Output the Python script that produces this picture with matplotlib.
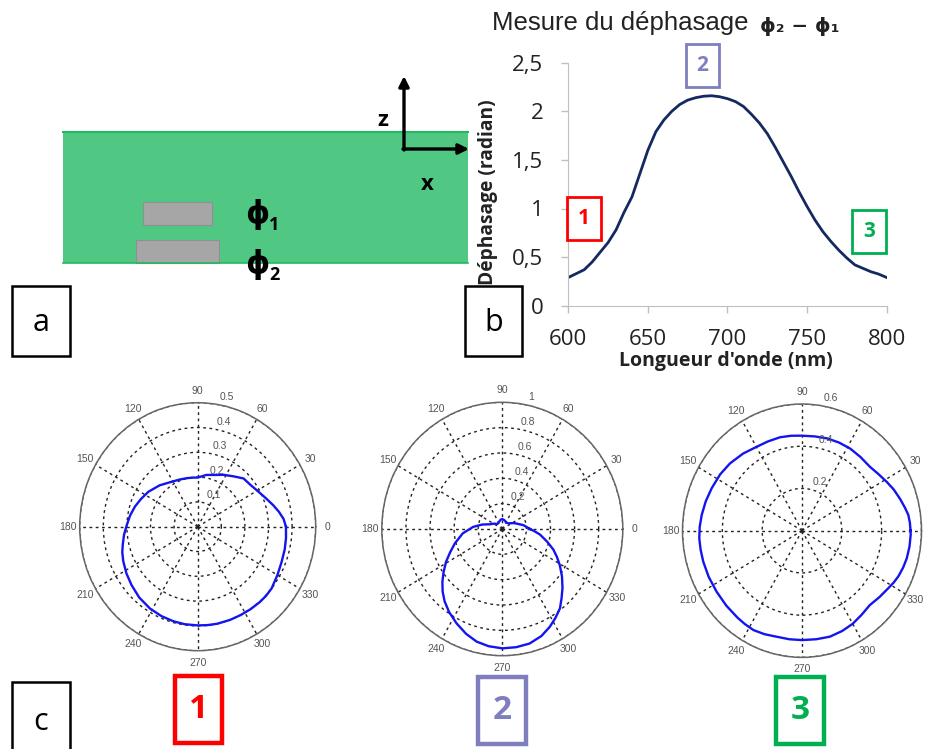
import numpy as np
import matplotlib
matplotlib.use("Agg")
import matplotlib.pyplot as plt
from matplotlib.patches import Rectangle

W, H = 929, 749

# courbe du dephasage
wavelength = [600, 605, 610, 615, 620, 625, 630, 635, 640, 645, 650, 655, 660, 665, 670, 675, 680, 685, 690, 695, 700,
              705, 710, 715, 720, 725, 730, 735, 740, 745, 750, 755, 760, 765, 770, 775, 780, 785, 790, 795, 800]
phase = [0.29, 0.33, 0.37, 0.45, 0.55, 0.65, 0.78, 0.96, 1.12, 1.36, 1.6, 1.79, 1.91, 2.0, 2.07, 2.115, 2.14, 2.155, 2.16, 2.15, 2.13,
         2.1, 2.05, 1.97, 1.88, 1.77, 1.63, 1.48, 1.33, 1.17, 1.02, 0.88, 0.76, 0.66, 0.57, 0.49, 0.42, 0.385, 0.35, 0.325, 0.29]
x_ticks = [600, 650, 700, 750, 800]
y_ticks = [0, 0.5, 1, 1.5, 2, 2.5]
y_tick_labels = ["0", "0,5", "1", "1,5", "2", "2,5"]

# diagrammes polaires
theta_1 = [0, 5, 10, 15, 22, 30.6, 37, 45, 53, 62.5, 70, 80, 90, 96, 103, 112, 123, 134, 146, 155, 163, 171, 179, 186, 193,
           198, 204, 212, 220, 229, 238.5, 247, 255, 262, 270, 276, 282, 290, 297, 304, 311, 316, 321.5, 330, 338, 346, 353, 360]
r_1 = [0.374, 0.365, 0.349, 0.332, 0.31, 0.29, 0.28, 0.275, 0.254, 0.236, 0.222, 0.212, 0.198, 0.199, 0.201, 0.205, 0.214, 0.232, 0.252, 0.265, 0.278, 0.29, 0.301, 0.314, 0.326,
       0.336, 0.345, 0.356, 0.366, 0.378, 0.387, 0.392, 0.395, 0.397, 0.398, 0.399, 0.4, 0.4, 0.4, 0.401, 0.402, 0.402, 0.4, 0.39, 0.383, 0.38, 0.377, 0.374]
theta_2 = [0, 5, 10, 25, 42, 58, 72, 90, 100, 110, 122, 136, 148, 160, 168, 176, 186, 196, 203, 209, 215, 220, 225, 230, 236,
           243, 250, 256.5, 263, 270, 277, 284, 291, 297, 302, 307.4, 312, 317, 323, 329, 334, 339, 345, 352, 356, 360]
r_2 = [0.23, 0.2, 0.177, 0.11, 0.067, 0.06, 0.07, 0.079, 0.075, 0.066, 0.06, 0.057, 0.08, 0.109, 0.17, 0.242, 0.33, 0.409, 0.47, 0.534, 0.595, 0.649, 0.7, 0.745, 0.79,
       0.836, 0.88, 0.914, 0.932, 0.942, 0.94, 0.932, 0.905, 0.867, 0.83, 0.788, 0.735, 0.683, 0.62, 0.557, 0.505, 0.454, 0.385, 0.316, 0.27, 0.23]
theta_3 = [0, 4, 8, 12, 17, 23, 28.6, 35, 41.6, 50, 58, 66, 74, 82, 90, 97, 104, 112, 119.8, 129, 138.6, 147, 156, 164, 171.6, 178, 184,
           190, 196.5, 205, 214, 223, 232, 237, 242.6, 249, 255.8, 263, 270, 278, 285.6, 293, 300, 307, 314, 321, 328, 332, 336, 341, 346, 352, 358, 360]
r_3 = [0.545, 0.543, 0.539, 0.528, 0.515, 0.5, 0.484, 0.468, 0.456, 0.456, 0.458, 0.457, 0.455, 0.451, 0.45, 0.453, 0.456, 0.456, 0.458, 0.47, 0.482, 0.49, 0.496, 0.503, 0.509, 0.514, 0.517,
       0.517, 0.517, 0.517, 0.517, 0.52, 0.524, 0.527, 0.53, 0.525, 0.518, 0.518, 0.518, 0.519, 0.521, 0.516, 0.509, 0.498, 0.49, 0.5, 0.512, 0.522, 0.53, 0.537, 0.542, 0.545, 0.546, 0.545]
r_ticks_1 = [0.1, 0.2, 0.3, 0.4, 0.5]
r_ticks_2 = [0.2, 0.4, 0.6, 0.8, 1]
r_ticks_3 = [0.2, 0.4, 0.6]
polar_angles = list(range(0, 360, 30))

RED = "#FF0000"
VIOLET = "#7F7FBF"
GREEN = "#00B050"
SANS = ["Open Sans", "DejaVu Sans"]


def px_axes(x0, y0, x1, y1):
    # rectangle en pixels (origine en haut a gauche) -> coordonnees figure
    return [x0 / W, 1 - y1 / H, (x1 - x0) / W, (y1 - y0) / H]


def polar_plot(cx, cy, rx, ry, theta, r, r_ticks, rmax, show_zero=True):
    ax = fig.add_axes(px_axes(cx - rx, cy - ry, cx + rx, cy + ry), projection="polar")
    ax.set_aspect("auto")
    ax.plot(np.radians(theta), r, color="#1414F0", lw=1.7, zorder=5)
    ax.set_ylim(0, rmax)
    # le 0 du dernier diagramme sort de l'image
    labels = [str(a) if (a != 0 or show_zero) else "" for a in polar_angles]
    ax.set_thetagrids(polar_angles, labels, fontsize=7.5, color="#555555", family="Liberation Sans")
    ax.set_rgrids(r_ticks, [""] * len(r_ticks))
    ax.tick_params(axis="x", pad=-2)
    ax.grid(True, color="#222222", ls=(0, (2, 2.5)), lw=1.0)
    ax.spines["polar"].set_color("#666666")
    ax.spines["polar"].set_linewidth(1.1)
    for t in r_ticks:
        ax.annotate(str(t), xy=(np.radians(82), t), xytext=(9, 5), textcoords="offset points",
                    fontsize=7.5, color="#555555", family="Liberation Sans", ha="center", va="center", zorder=6)
    return ax


fig = plt.figure(figsize=(W / 100, H / 100), dpi=100, facecolor="white")

# panneau b
ax_b = fig.add_axes(px_axes(568.3, 62.7, 886.7, 305.7))
ax_b.plot(wavelength, phase, color="#14295F", lw=2.0)
ax_b.set_xlim(600, 800)
ax_b.set_ylim(0, 2.5)
ax_b.set_xticks(x_ticks)
ax_b.set_yticks(y_ticks)
ax_b.set_yticklabels(y_tick_labels)
ax_b.tick_params(length=5, width=1, color="#BFBFBF", labelsize=16, labelcolor="#222222")
ax_b.tick_params(axis="x", pad=12)
ax_b.tick_params(axis="y", pad=13)
for lab in ax_b.get_xticklabels() + ax_b.get_yticklabels():
    lab.set_family(SANS)
for side in ["top", "right"]:
    ax_b.spines[side].set_visible(False)
for side in ["left", "bottom"]:
    ax_b.spines[side].set_color("#BFBFBF")
ax_b.set_xlabel("Longueur d'onde (nm)", family=SANS, weight="bold", fontsize=14, color="#222222")
ax_b.set_ylabel("Déphasage (radian)", family=SANS, weight="bold", fontsize=13.8, color="#222222")
ax_b.xaxis.set_label_coords((726 - 568.3) / 318.4, (305.7 - 351) / 243, transform=ax_b.transAxes)
ax_b.yaxis.set_label_coords((498 - 568.3) / 318.4, (305.7 - 192.5) / 243, transform=ax_b.transAxes)

# panneau c
polar_plot(197.7, 526.7, 118, 124, theta_1, r_1, r_ticks_1, 0.5)
polar_plot(502.3, 529, 120.5, 126.7, theta_2, r_2, r_ticks_2, 1)
polar_plot(802, 530.7, 119.5, 126.7, theta_3, r_3, r_ticks_3, 0.6, show_zero=False)

# calque en pixels pour le schema et les etiquettes
ov = fig.add_axes([0, 0, 1, 1], facecolor="none", zorder=10)
ov.set_xlim(0, W)
ov.set_ylim(H, 0)
ov.axis("off")

# panneau a
ov.add_patch(Rectangle((63, 131), 405, 132, fc="#50C884", ec="none"))
ov.plot([63, 468], [132, 132], color="#22B860", lw=1.5)
ov.plot([63, 468], [263, 263], color="#22B860", lw=1.2)
ov.add_patch(Rectangle((143, 202), 69, 23, fc="#A6A6A6", ec="#909090", lw=0.8))
ov.add_patch(Rectangle((136, 240), 83, 23, fc="#A6A6A6", ec="#909090", lw=0.8))
arrow = dict(arrowstyle="-|>", color="black", lw=2.4, mutation_scale=15, shrinkA=0, shrinkB=0)
ov.annotate("", xy=(404, 76), xytext=(404, 150), arrowprops=arrow)
ov.annotate("", xy=(469, 149), xytext=(403, 149), arrowprops=arrow)
ov.text(383, 121, "z", family=SANS, weight="bold", fontsize=16, ha="center", va="center")
ov.text(427, 184, "x", family=SANS, weight="bold", fontsize=16, ha="center", va="center")
for y_phi, num in [(215, "1"), (265, "2")]:
    ov.text(257, y_phi, "ϕ", family="DejaVu Sans", weight="bold", fontsize=22, ha="center", va="center")
    ov.text(274, y_phi + 10, num, family=SANS, weight="bold", fontsize=13, ha="center", va="center")

# titre
ov.text(492, 23, "Mesure du déphasage", family="Liberation Sans", fontsize=18.5, color="#222222", ha="left", va="center")
ov.text(760, 27, "ϕ₂ − ϕ₁", family="DejaVu Sans", weight="bold", fontsize=14.3, color="#222222", ha="left", va="center")

# cadres a, b, c
for x0, y0, x1, y1, name in [(12, 286, 70, 356, "a"), (465, 286, 522, 356, "b"), (12, 682, 70, 762, "c")]:
    ov.add_patch(Rectangle((x0, y0), x1 - x0, y1 - y0, fc="white", ec="black", lw=1.8))
    y_txt = 722 if name == "c" else y0 + 37
    ov.text((x0 + x1) / 2, y_txt, name, family=SANS, fontsize=22, ha="center", va="center")

# reperes 1, 2, 3
for x0, y0, x1, y1, num, col, lw, fs in [
    (567, 197, 601, 240, "1", RED, 2.0, 15),
    (686, 44, 719, 87, "2", VIOLET, 2.0, 15),
    (852, 210, 886, 253, "3", GREEN, 2.0, 15),
    (175, 676, 222, 743, "1", RED, 3.2, 24),
    (478, 677, 526, 744, "2", VIOLET, 3.2, 24),
    (776, 677, 824, 744, "3", GREEN, 3.2, 24),
]:
    ov.add_patch(Rectangle((x0, y0), x1 - x0, y1 - y0, fc="none", ec=col, lw=lw))
    ov.text((x0 + x1) / 2, (y0 + y1) / 2, num, family=SANS, weight="bold", color=col, fontsize=fs, ha="center", va="center")

fig.savefig("out.png", dpi=100)
